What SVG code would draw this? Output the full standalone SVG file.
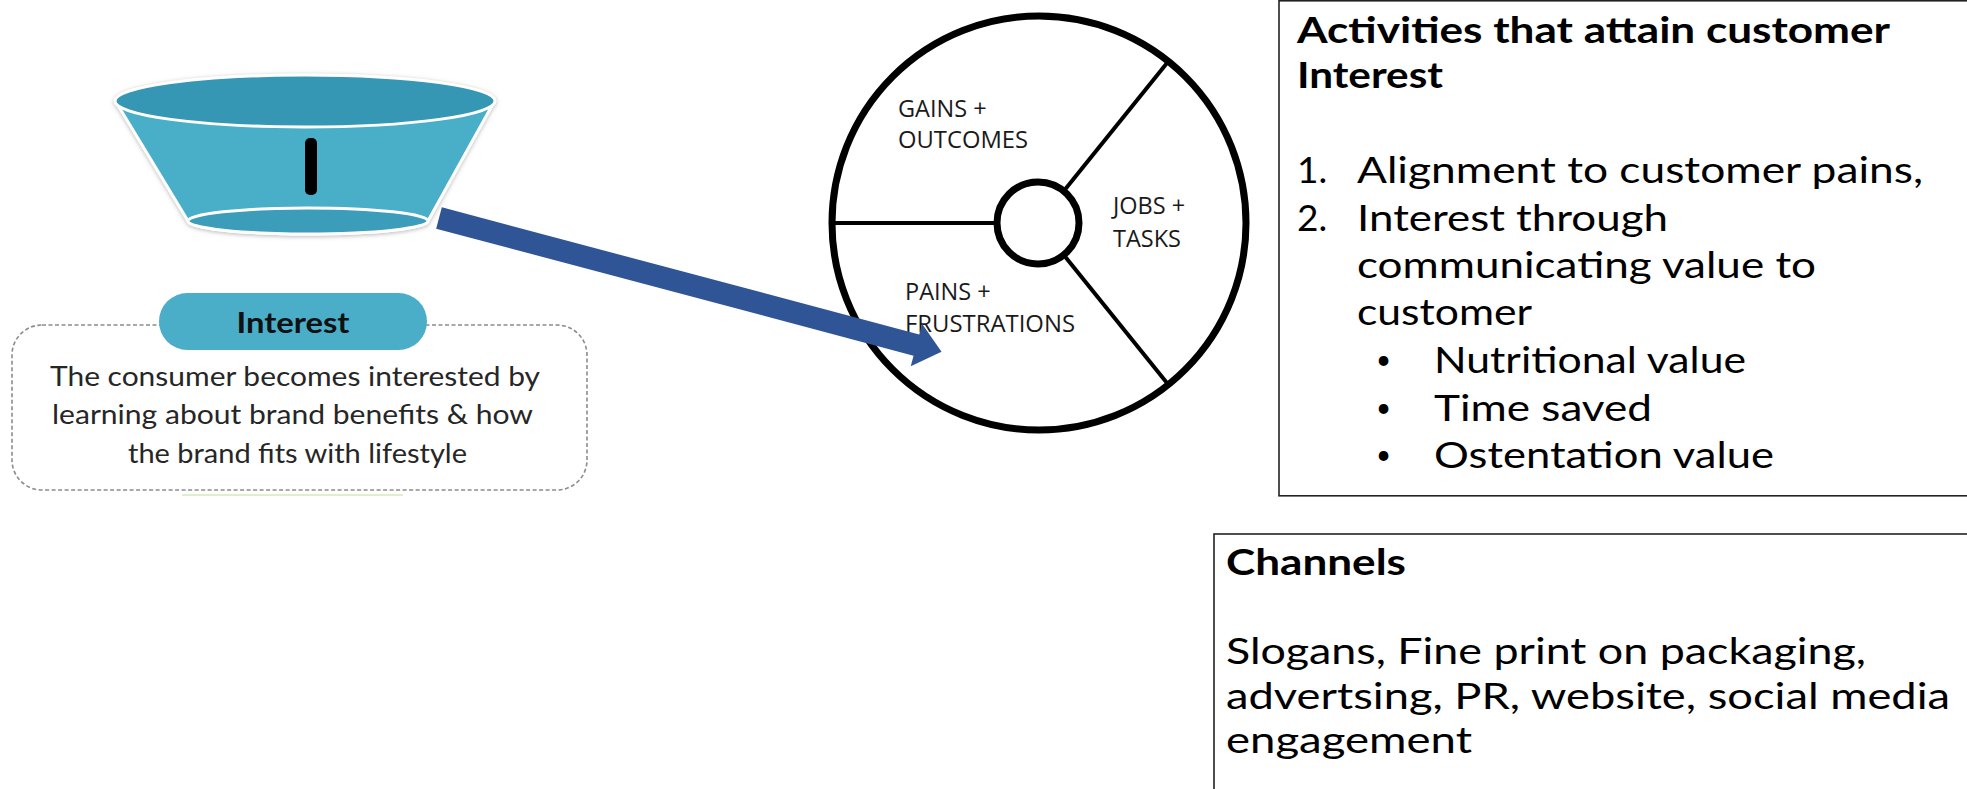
<svg xmlns="http://www.w3.org/2000/svg" width="1967" height="789" viewBox="0 0 1967 789">
  <style>
    .wheel-label { font-family: "Open Sans", "Noto Sans", sans-serif; font-size: 23.5px; fill: #1a1a1a; }
    .stage-text { font-family: Lato, "Open Sans", sans-serif; font-size: 26px; fill: #262626; }
    .stage-title { font-family: Lato, "Open Sans", sans-serif; font-weight: bold; font-size: 29px; fill: #111; }
    .box-head { font-family: Lato, "Noto Sans", sans-serif; font-weight: bold; font-size: 36px; fill: #000; }
    .box-text { font-family: Lato, "Noto Sans", sans-serif; font-size: 37px; fill: #000; }
    .bullet { font-family: Lato, "Noto Sans", sans-serif; font-size: 26px; fill: #000; }
    .panel { fill: #fff; stroke: #222; stroke-width: 1.6; }
    .wheel-line { stroke: #000; fill: none; }
  </style>
  <defs>
    <filter id="soft" x="-10%" y="-20%" width="120%" height="140%">
      <feDropShadow dx="0" dy="1" stdDeviation="2" flood-color="#8a8a8a" flood-opacity="0.6"/>
    </filter>
  </defs>

  <rect width="1967" height="789" fill="#fff"/>

  <!-- Funnel stage -->
  <g id="funnel" filter="url(#soft)">
    <path d="M116,102 L188,221 A120,13 0 0 0 428,221 L494,102 Z" fill="#4aaec8" stroke="#fff" stroke-width="3"/>
    <ellipse cx="305" cy="101" rx="190" ry="26" fill="#3597b3" stroke="#fff" stroke-width="3"/>
    <ellipse cx="308" cy="221" rx="120" ry="13" fill="#3a9dba" stroke="#fff" stroke-width="3"/>
    <rect x="305" y="138" width="12" height="57" rx="5" fill="#000"/>
  </g>

  <!-- Stage description card -->
  <g id="interest-card">
    <rect x="12" y="325" width="575" height="165" rx="30" fill="none" stroke="#8c8c8c" stroke-width="1.6" stroke-dasharray="4 2.5"/>
    <line x1="182" y1="495" x2="403" y2="495" stroke="#dcefcf" stroke-width="2"/>
    <rect x="159" y="293" width="268" height="57" rx="28.5" fill="#4aaec8"/>
    <text class="stage-title" x="293" y="333" text-anchor="middle" textLength="113" lengthAdjust="spacingAndGlyphs">Interest</text>
    <text class="stage-text" x="295" y="386" text-anchor="middle" textLength="490" lengthAdjust="spacingAndGlyphs">The consumer becomes interested by</text>
    <text class="stage-text" x="292.5" y="424" text-anchor="middle" textLength="481" lengthAdjust="spacingAndGlyphs">learning about brand benefits &amp; how</text>
    <text class="stage-text" x="297.5" y="463" text-anchor="middle" textLength="339" lengthAdjust="spacingAndGlyphs">the brand fits with lifestyle</text>
  </g>

  <!-- Customer profile wheel -->
  <g id="profile-wheel">
    <circle cx="1039" cy="223" r="207" fill="#fff" stroke="#000" stroke-width="7"/>
    <line class="wheel-line" x1="833" y1="223" x2="1000" y2="223" stroke-width="4"/>
    <line class="wheel-line" x1="1038" y1="223" x2="1167" y2="63" stroke-width="4"/>
    <line class="wheel-line" x1="1038" y1="223" x2="1167" y2="383" stroke-width="4"/>
    <circle cx="1038" cy="223" r="41" fill="#fff" stroke="#000" stroke-width="7"/>
    <text class="wheel-label" x="898" y="117">GAINS +</text>
    <text class="wheel-label" x="898" y="148" textLength="130" lengthAdjust="spacingAndGlyphs">OUTCOMES</text>
    <text class="wheel-label" x="1113" y="214">JOBS +</text>
    <text class="wheel-label" x="1113" y="247">TASKS</text>
    <text class="wheel-label" x="905" y="300">PAINS +</text>
    <text class="wheel-label" x="905" y="332" textLength="170" lengthAdjust="spacingAndGlyphs">FRUSTRATIONS</text>
  </g>

  <!-- Activities panel -->
  <g id="activities">
    <rect class="panel" x="1279" y="0.8" width="700" height="495"/>
    <text class="box-head" x="1297" y="43" textLength="593" lengthAdjust="spacingAndGlyphs">Activities that attain customer</text>
    <text class="box-head" x="1297" y="88" textLength="146" lengthAdjust="spacingAndGlyphs">Interest</text>
    <text class="box-text" x="1297" y="183">1.</text>
    <text class="box-text" x="1357" y="183" textLength="566" lengthAdjust="spacingAndGlyphs">Alignment to customer pains,</text>
    <text class="box-text" x="1297" y="231">2.</text>
    <text class="box-text" x="1357" y="231" textLength="311" lengthAdjust="spacingAndGlyphs">Interest through</text>
    <text class="box-text" x="1357" y="278" textLength="459" lengthAdjust="spacingAndGlyphs">communicating value to</text>
    <text class="box-text" x="1357" y="325" textLength="175" lengthAdjust="spacingAndGlyphs">customer</text>
    <text class="bullet" x="1376" y="369">•</text>
    <text class="box-text" x="1434" y="373" textLength="312" lengthAdjust="spacingAndGlyphs">Nutritional value</text>
    <text class="bullet" x="1376" y="417">•</text>
    <text class="box-text" x="1434" y="421" textLength="218" lengthAdjust="spacingAndGlyphs">Time saved</text>
    <text class="bullet" x="1376" y="464">•</text>
    <text class="box-text" x="1434" y="468" textLength="340" lengthAdjust="spacingAndGlyphs">Ostentation value</text>
  </g>

  <!-- Channels panel -->
  <g id="channels">
    <rect class="panel" x="1214" y="534" width="760" height="262"/>
    <text class="box-head" x="1226" y="575" textLength="180" lengthAdjust="spacingAndGlyphs">Channels</text>
    <text class="box-text" x="1226" y="664" textLength="640" lengthAdjust="spacingAndGlyphs">Slogans, Fine print on packaging,</text>
    <text class="box-text" x="1226" y="709" textLength="724" lengthAdjust="spacingAndGlyphs">advertsing, PR, website, social media</text>
    <text class="box-text" x="1226" y="753" textLength="246" lengthAdjust="spacingAndGlyphs">engagement</text>
  </g>

  <!-- Connector -->
  <g id="connectors">
    <polygon transform="translate(439,218) rotate(14.9)" fill="#2f5597"
             points="0,-11 494,-11 494,-22 520,0 494,22 494,11 0,11"/>
  </g>
</svg>
